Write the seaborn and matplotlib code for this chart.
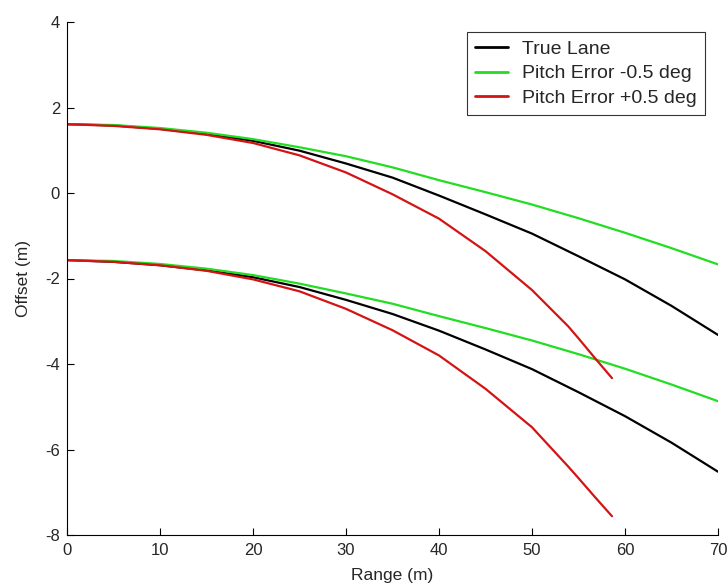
import numpy as np
import pandas as pd
import matplotlib
matplotlib.use("Agg")
import matplotlib.pyplot as plt
import seaborn as sns

# Lane boundary offsets versus look-ahead range, for the true lane and for
# camera pitch errors of -0.5 and +0.5 degrees.
range_m = [0, 5, 10, 15, 20, 25, 30, 35, 40, 45, 50, 55, 60, 65, 70]
range_short = [0, 5, 10, 15, 20, 25, 30, 35, 40, 45, 50, 53.9, 55, 56.8, 58.6]

true_left = [1.61, 1.58, 1.50, 1.38, 1.22, 0.99, 0.69, 0.36, -0.06, -0.50,
             -0.95, -1.48, -2.02, -2.64, -3.32]
true_right = [-1.57, -1.61, -1.69, -1.81, -1.97, -2.20, -2.50, -2.83, -3.22,
              -3.66, -4.12, -4.66, -5.22, -5.84, -6.52]

pitch_neg_left = [1.61, 1.59, 1.52, 1.41, 1.26, 1.07, 0.86, 0.60, 0.30, 0.02,
                  -0.27, -0.59, -0.93, -1.29, -1.67]
pitch_neg_right = [-1.57, -1.59, -1.66, -1.77, -1.92, -2.12, -2.35, -2.59,
                   -2.88, -3.16, -3.45, -3.77, -4.11, -4.48, -4.87]

pitch_pos_left = [1.61, 1.57, 1.49, 1.36, 1.17, 0.88, 0.48, -0.03, -0.60,
                  -1.36, -2.27, -3.12, -3.40, -3.87, -4.33]
pitch_pos_right = [-1.57, -1.61, -1.69, -1.82, -2.02, -2.30, -2.71, -3.21,
                   -3.80, -4.58, -5.48, -6.40, -6.67, -7.12, -7.56]

labels = ["True Lane", "Pitch Error -0.5 deg", "Pitch Error +0.5 deg"]
colors = ["#000000", "#22dd22", "#d41414"]

x_ticks = [0, 10, 20, 30, 40, 50, 60, 70]
y_ticks = [-8, -6, -4, -2, 0, 2, 4]

frames = []
for name, xs, left, right in [
    (labels[0], range_m, true_left, true_right),
    (labels[1], range_m, pitch_neg_left, pitch_neg_right),
    (labels[2], range_short, pitch_pos_left, pitch_pos_right),
]:
    for side, ys in (("left", left), ("right", right)):
        frames.append(pd.DataFrame({"range": xs, "offset": ys,
                                    "series": name, "boundary": side}))
df = pd.concat(frames, ignore_index=True)

sns.set_style("ticks")
plt.rcParams["font.family"] = ["Liberation Sans", "DejaVu Sans"]
plt.rcParams["axes.unicode_minus"] = False
plt.rcParams["xtick.direction"] = "in"
plt.rcParams["ytick.direction"] = "in"

fig = plt.figure(figsize=(7.28, 5.88), dpi=100)
ax = fig.add_axes([67 / 728, 53 / 588, 651 / 728, 513 / 588])

sns.lineplot(data=df, x="range", y="offset", hue="series", units="boundary",
             estimator=None, sort=False, hue_order=labels,
             palette=dict(zip(labels, colors)), linewidth=1.6, ax=ax)

ax.set_xlim(0, 70)
ax.set_ylim(-8, 4)
ax.set_xticks(x_ticks)
ax.set_yticks(y_ticks)
ax.tick_params(length=5, width=0.8, labelsize=12, color="black")
ax.tick_params(axis="x", pad=6)
ax.tick_params(axis="y", pad=5)
for s in ("top", "right"):
    ax.spines[s].set_visible(False)
for s in ("left", "bottom"):
    ax.spines[s].set_linewidth(0.8)
    ax.spines[s].set_color("black")

ax.set_xlabel("Range (m)", fontsize=12.5, labelpad=7)
ax.set_ylabel("Offset (m)", fontsize=12.5, labelpad=10)

handles, lbls = ax.get_legend_handles_labels()
leg = ax.legend(handles, lbls, loc="upper right",
                bbox_to_anchor=(0.980, 0.9805), borderaxespad=0,
                fontsize=14, frameon=True, fancybox=False,
                edgecolor="black", handlelength=1.7, handletextpad=0.72,
                labelspacing=0.36, borderpad=0.42)
leg.get_frame().set_linewidth(0.8)
for line in leg.get_lines():
    line.set_linewidth(2.0)

fig.savefig("out.png", dpi=100)
